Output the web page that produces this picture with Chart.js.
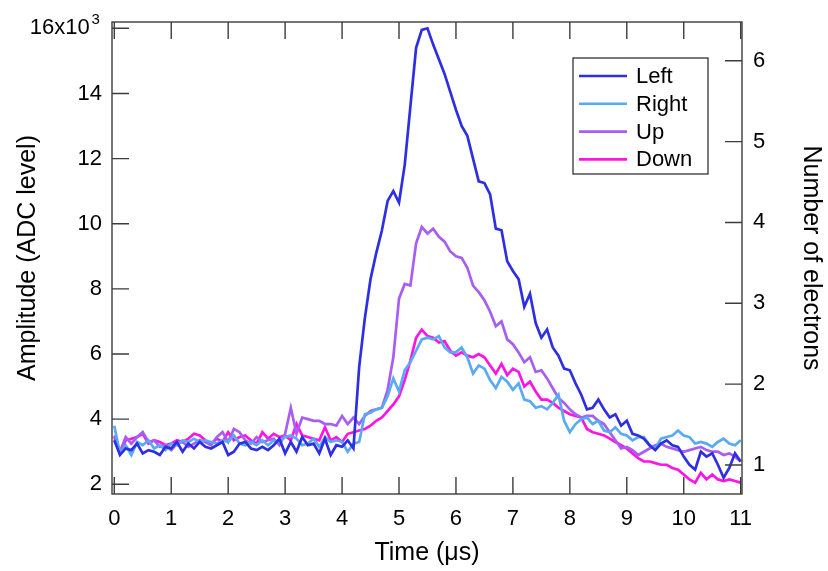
<!DOCTYPE html>
<html>
<head>
<meta charset="utf-8">
<script src="https://cdn.jsdelivr.net/npm/chart.js@4.4.0/dist/chart.umd.min.js"></script>
<style>
    html, body { margin: 0; padding: 0; background: #fff; }
</style>
</head>
<body>
<canvas id="chart1" width="828" height="571"></canvas>
<script>
// samples every 0.1 us from 0 to 11 us
const sampleCount = 111;
const sampleStep = 0.1;

// amplitudes in ADC level (x10^3), one value per sample
const leftAmp = [
    3.35, 2.9, 3.1, 3.05, 3.25, 2.95, 3.05, 3.0, 2.9, 3.15,
    3.1, 3.3, 3.0, 3.25, 3.1, 3.3, 3.15, 3.1, 3.2, 3.3,
    2.9, 3.0, 3.25, 3.3, 3.1, 3.05, 3.15, 3.05, 3.2, 3.4,
    2.95, 3.3, 3.0, 3.45, 3.2, 3.25, 2.95, 3.4, 2.9, 3.2,
    3.15, 3.35, 3.1, 5.6, 7.1, 8.3, 9.1, 9.8, 10.7, 11.0,
    10.65, 11.8, 13.6, 15.4, 15.95, 16.0, 15.5, 15.05, 14.6, 14.05,
    13.5, 13.0, 12.7, 12.0, 11.3, 11.25, 10.9, 9.85, 9.8, 8.85,
    8.55, 8.3, 7.45, 7.85, 6.95, 6.5, 6.75, 6.2, 5.95, 5.55,
    5.5, 5.1, 4.75, 4.3, 4.35, 4.6, 4.3, 4.05, 4.15, 3.8,
    3.95, 3.55, 3.5, 3.4, 3.2, 3.05, 3.25, 3.35, 3.2, 3.15,
    2.85, 2.6, 2.45, 3.0, 2.85, 2.95, 2.6, 2.2, 2.5, 2.95,
    2.7
];
const rightAmp = [
    3.8, 2.95, 3.2, 2.9, 3.3, 3.2, 3.35, 3.1, 3.2, 3.05,
    3.25, 3.2, 3.35, 3.3, 3.4, 3.3, 3.35, 3.3, 3.25, 3.35,
    3.3, 3.5, 3.25, 3.2, 3.3, 3.2, 3.35, 3.2, 3.35, 3.3,
    3.45, 3.5, 3.4, 3.2, 3.25, 3.4, 3.15, 3.45, 3.3, 3.35,
    3.3, 3.0, 3.25, 3.3, 4.15, 4.2, 4.3, 4.35, 4.7, 5.25,
    4.85, 5.5, 5.75, 6.1, 6.45, 6.5, 6.45, 6.55, 6.2, 6.05,
    6.05, 6.2, 5.9, 5.4, 5.65, 5.55, 5.2, 4.95, 5.3, 5.15,
    4.9, 5.1, 4.6, 4.55, 4.35, 4.4, 4.3, 4.5, 4.75, 3.95,
    3.6, 3.85, 4.0, 4.05, 3.85, 3.95, 3.65, 3.6, 3.75, 3.55,
    3.5, 3.35, 3.45, 3.45, 3.2, 3.1, 3.4, 3.45, 3.5, 3.65,
    3.5, 3.45, 3.25, 3.3, 3.25, 3.15, 3.3, 3.4, 3.25, 3.2,
    3.35
];
const upAmp = [
    3.5, 3.0, 3.45, 3.25, 3.45, 3.6, 3.3, 3.35, 3.15, 3.2,
    3.05, 3.25, 3.3, 3.15, 3.25, 3.35, 3.3, 3.2, 3.45, 3.6,
    3.3, 3.7, 3.6, 3.35, 3.25, 3.45, 3.3, 3.35, 3.4, 3.2,
    3.55, 4.35, 3.55, 4.05, 4.0, 3.95, 3.95, 3.85, 3.85, 3.8,
    4.1, 3.85, 4.05, 3.85, 4.1, 4.25, 4.3, 4.35, 4.9, 5.9,
    7.7, 8.15, 8.1, 9.4, 9.9, 9.7, 9.85, 9.6, 9.45, 9.15,
    9.0, 8.95, 8.65, 8.1, 7.9, 7.65, 7.3, 6.85, 7.0, 6.45,
    6.3, 6.05, 5.75, 5.9, 5.45, 5.5, 5.25, 4.95, 4.65, 4.5,
    4.3, 4.15, 4.05, 4.1, 4.1, 3.95, 3.85, 3.6, 3.35, 3.1,
    3.15, 3.05, 2.9, 3.0, 3.1, 3.2, 3.25, 3.15, 3.1, 3.05,
    3.0, 3.05, 3.1, 3.15, 3.05, 3.0, 3.0, 2.9, 2.95, 2.85,
    2.7
];
const downAmp = [
    3.45, 3.0, 3.35, 3.4, 3.45, 3.55, 3.25, 3.35, 3.3, 3.2,
    3.25, 3.35, 3.3, 3.4, 3.55, 3.5, 3.35, 3.25, 3.4, 3.3,
    3.6, 3.35, 3.45, 3.5, 3.35, 3.25, 3.6, 3.4, 3.55, 3.45,
    3.5, 3.35, 3.85, 3.5, 3.45, 3.4, 3.35, 3.75, 3.35, 3.45,
    3.3, 3.55, 3.6, 3.65, 3.7, 3.8, 3.95, 4.05, 4.25, 4.45,
    4.7, 5.2, 5.8, 6.5, 6.75, 6.55, 6.5, 6.35, 6.4, 6.1,
    5.95, 6.05, 5.95, 5.9, 6.0, 5.9, 5.65, 5.4, 5.7, 5.35,
    5.55, 5.45, 5.0, 5.15, 4.85, 4.6, 4.6, 4.5, 4.35, 4.25,
    4.15, 4.1, 4.05, 3.7, 3.6, 3.55, 3.5, 3.4, 3.3, 3.2,
    3.1, 2.95, 2.8, 2.7, 2.7, 2.65, 2.6, 2.6, 2.5, 2.45,
    2.3, 2.15, 2.05, 2.35, 2.15, 2.3, 2.15, 2.1, 2.15, 2.1,
    2.05
];

const seriesNames = ["Left", "Right", "Up", "Down"];
const seriesColors = ["#2f2fe2", "#58aaf2", "#a75ef2", "#ff14e6"];

const timeTicks = [0, 1, 2, 3, 4, 5, 6, 7, 8, 9, 10, 11];
const ampTicks = [2, 4, 6, 8, 10, 12, 14, 16];
// the top label carries the x10^3 multiplier; its exponent is drawn raised
const ampTickLabels = ["2", "4", "6", "8", "10", "12", "14", "16x10  "];
const ampExponent = "3";
const electronTicks = [1, 2, 3, 4, 5, 6];

const times = [];
for (let i = 0; i < sampleCount; i++) times.push(+(i * sampleStep).toFixed(2));

const FONT = "'Liberation Sans', Arial, sans-serif";
const AXIS_COLOR = "#3c3c3c";
const TICK_LEN = 17;

const toPoints = (vals) => vals.map((v, i) => ({ x: times[i], y: v }));

// keep the plot box fixed: no extra room for overhanging tick labels
const noOverhang = (s) => {
    s.paddingTop = 0; s.paddingBottom = 0;
    s.paddingLeft = 0; s.paddingRight = 0;
};

// inward tick marks + closed frame, drawn over the traces
const frameTicks = {
    id: "frameTicks",
    afterDatasetsDraw(chart) {
        const { ctx, chartArea: a, scales } = chart;
        ctx.save();
        ctx.strokeStyle = AXIS_COLOR;
        ctx.lineWidth = 1.4;
        ctx.strokeRect(a.left, a.top, a.right - a.left, a.bottom - a.top);
        ctx.beginPath();
        scales.x.ticks.forEach(t => {
            const px = scales.x.getPixelForValue(t.value);
            ctx.moveTo(px, a.bottom); ctx.lineTo(px, a.bottom - TICK_LEN);
            ctx.moveTo(px, a.top); ctx.lineTo(px, a.top + TICK_LEN);
        });
        scales.y.ticks.forEach(t => {
            const py = scales.y.getPixelForValue(t.value);
            ctx.moveTo(a.left, py); ctx.lineTo(a.left + TICK_LEN, py);
        });
        scales.y2.ticks.forEach(t => {
            const py = scales.y2.getPixelForValue(t.value);
            ctx.moveTo(a.right, py); ctx.lineTo(a.right - TICK_LEN, py);
        });
        ctx.stroke();

        // raised exponent next to the top amplitude label
        const topPy = scales.y.getPixelForValue(ampTicks[ampTicks.length - 1]);
        ctx.fillStyle = "#000";
        ctx.font = `15px ${FONT}`;
        ctx.textAlign = "left";
        ctx.textBaseline = "alphabetic";
        ctx.fillText(ampExponent, a.left - 20.5, topPy - 4);
        ctx.restore();
    }
};

// boxed legend in the upper right of the plot
const boxLegend = {
    id: "boxLegend",
    afterDraw(chart) {
        const { ctx, data } = chart;
        const x0 = 573, y0 = 58, w = 135, h = 116, rowH = 27.8;
        ctx.save();
        ctx.fillStyle = "#fff";
        ctx.fillRect(x0, y0, w, h);
        ctx.strokeStyle = "#222";
        ctx.lineWidth = 1.2;
        ctx.strokeRect(x0, y0, w, h);
        ctx.font = `22px ${FONT}`;
        ctx.textAlign = "left";
        ctx.textBaseline = "middle";
        data.datasets.forEach((ds, i) => {
            const y = y0 + 18 + i * rowH;
            ctx.strokeStyle = ds.borderColor;
            ctx.lineWidth = 2.6;
            ctx.beginPath();
            ctx.moveTo(x0 + 6, y);
            ctx.lineTo(x0 + 54, y);
            ctx.stroke();
            ctx.fillStyle = "#000";
            ctx.fillText(ds.label, x0 + 63, y + 1);
        });
        ctx.restore();
    }
};

const ctx = document.getElementById("chart1").getContext("2d");

new Chart(ctx, {
    type: "line",
    data: {
        datasets: [leftAmp, rightAmp, upAmp, downAmp].map((vals, i) => ({
            label: seriesNames[i],
            data: toPoints(vals),
            borderColor: seriesColors[i],
            borderWidth: 2.7,
            pointRadius: 0,
            tension: 0,
            fill: false,
            xAxisID: "x",
            yAxisID: "y",
        })),
    },
    options: {
        responsive: false,
        devicePixelRatio: 1,
        animation: false,
        layout: { padding: { top: 22, left: 0, right: 0, bottom: 0 } },
        plugins: {
            legend: { display: false },
            tooltip: { enabled: false },
        },
        scales: {
            x: {
                type: "linear",
                position: "bottom",
                min: -0.04,
                max: 11.023,
                afterBuildTicks: (s) => { s.ticks = timeTicks.map(v => ({ value: v })); },
                afterFit: (s) => { s.height = 77; noOverhang(s); },
                grid: { display: false, drawTicks: false },
                border: { display: false },
                ticks: {
                    color: "#000",
                    font: { family: FONT, size: 22 },
                    padding: 12,
                    maxRotation: 0,
                    autoSkip: false,
                    callback: (v) => String(v),
                },
                title: {
                    display: true,
                    text: "Time (\u03bcs)",
                    color: "#000",
                    font: { family: FONT, size: 25 },
                    padding: { top: 0, bottom: 3 },
                },
            },
            y: {
                type: "linear",
                position: "left",
                min: 1.702,
                max: 16.194,
                afterBuildTicks: (s) => { s.ticks = ampTicks.map(v => ({ value: v })); },
                afterFit: (s) => { s.width = 112; noOverhang(s); },
                grid: { display: false, drawTicks: false },
                border: { display: false },
                ticks: {
                    color: "#000",
                    font: { family: FONT, size: 22 },
                    padding: 10,
                    autoSkip: false,
                    callback: (v, i) => ampTickLabels[i],
                },
                title: {
                    display: true,
                    text: "Amplitude (ADC level)",
                    color: "#000",
                    font: { family: FONT, size: 25 },
                    padding: { top: 13, bottom: 0 },
                },
            },
            y2: {
                type: "linear",
                position: "right",
                min: 0.641,
                max: 6.479,
                afterBuildTicks: (s) => { s.ticks = electronTicks.map(v => ({ value: v })); },
                afterFit: (s) => { s.width = 86; noOverhang(s); },
                grid: { display: false, drawTicks: false },
                border: { display: false },
                ticks: {
                    color: "#000",
                    font: { family: FONT, size: 22 },
                    padding: 11,
                    autoSkip: false,
                    callback: (v) => String(v),
                },
                title: {
                    display: true,
                    text: "Number of electrons",
                    color: "#000",
                    font: { family: FONT, size: 25 },
                    padding: { top: 2, bottom: 0 },
                },
            },
        },
    },
    plugins: [frameTicks, boxLegend],
});
</script>
</body>
</html>
